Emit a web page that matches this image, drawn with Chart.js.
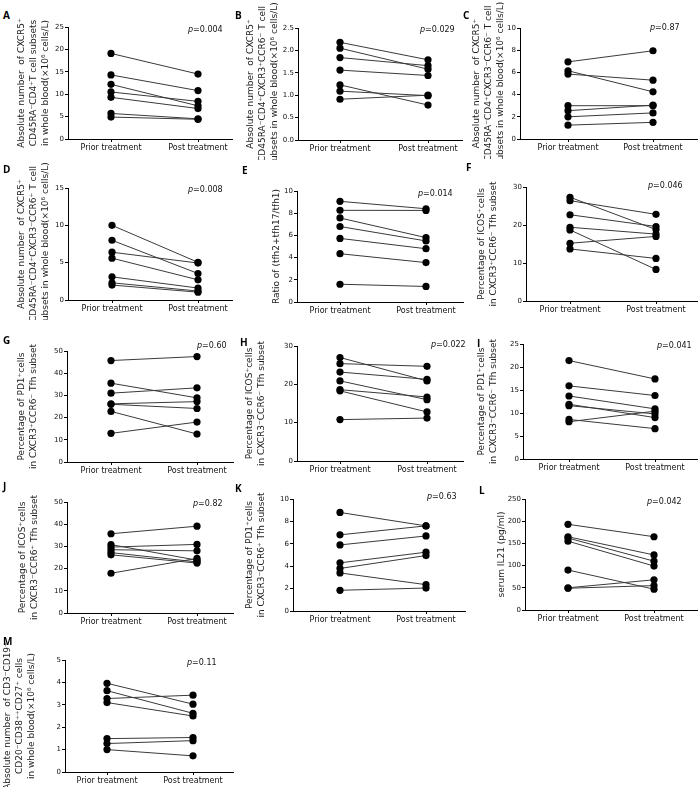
<!DOCTYPE html>
<html>
<head>
<meta charset="utf-8">
<script src="https://cdn.jsdelivr.net/npm/chart.js@4.4.1/dist/chart.umd.min.js"></script>
<style>
  body { margin: 0; background: #fff; width: 700px; height: 787px; position: relative; overflow: hidden; }
  canvas { position: absolute; }
  .lab { position: absolute; font: bold 10px "Open Sans", sans-serif; color: #000; line-height: 12px; }
  .pv { position: absolute; font: 8px "DejaVu Sans", sans-serif; color: #111; white-space: nowrap; line-height: 10px; }
</style>
</head>
<body>
<script>
// categories
const groups = ['Prior treatment', 'Post treatment'];

// values per subject
const A_prior = [19.1, 14.3, 12.2, 10.5, 9.3, 5.7, 4.9];
const A_post  = [14.5, 10.8, 7.4, 8.4, 6.8, 4.5, 4.4];
const B_prior = [2.18, 2.05, 1.84, 1.56, 1.23, 1.09, 0.91];
const B_post  = [1.79, 1.58, 1.66, 1.44, 0.78, 0.99, 1.0];
const C_prior = [6.95, 6.15, 5.85, 3.0, 2.55, 2.0, 1.25];
const C_post  = [7.95, 4.25, 5.3, 3.0, 3.05, 2.35, 1.5];
const D_prior = [10.0, 8.0, 6.4, 5.6, 3.1, 2.3, 2.0];
const D_post  = [5.05, 3.55, 4.95, 2.7, 1.6, 1.2, 1.05];
const E_prior = [9.07, 8.26, 7.57, 6.8, 5.73, 4.35, 1.6];
const E_post  = [8.4, 8.25, 5.8, 5.5, 4.8, 3.55, 1.4];
const F_prior = [27.3, 26.4, 22.7, 19.4, 18.7, 15.2, 13.7];
const F_post  = [18.8, 22.8, 19.6, 17.6, 8.3, 17.0, 11.2];
const G_prior = [45.7, 35.5, 31.0, 26.2, 26.0, 22.8, 12.9];
const G_post  = [47.5, 28.9, 33.4, 27.2, 24.1, 12.6, 18.0];
const H_prior = [27.0, 25.4, 23.2, 20.9, 18.6, 18.3, 10.8];
const H_post  = [20.9, 24.7, 21.3, 16.0, 16.7, 12.8, 11.2];
const I_prior = [21.4, 15.9, 13.7, 11.9, 11.6, 8.6, 8.1];
const I_post  = [17.4, 13.8, 10.9, 9.0, 9.8, 6.6, 10.4];
const J_prior = [35.7, 30.8, 29.7, 28.5, 27.2, 26.2, 17.9];
const J_post  = [39.1, 23.8, 30.9, 28.0, 23.0, 22.5, 24.6];
const K_prior = [8.8, 6.8, 5.9, 4.3, 3.8, 3.4, 1.85];
const K_post  = [7.6, 7.6, 6.7, 5.25, 4.95, 2.35, 2.05];
const L_prior = [193, 165, 162, 155, 90, 50, 49];
const L_post  = [165, 124, 110, 99, 47, 68, 55];
const M_prior = [3.96, 3.63, 3.28, 3.1, 1.49, 1.27, 1.0];
const M_post  = [3.03, 2.62, 3.43, 2.5, 1.54, 1.4, 0.72];

// y tick labels
const A_ticks = ['0', '5', '10', '15', '20', '25'];
const B_ticks = ['0.0', '0.5', '1.0', '1.5', '2.0', '2.5'];
const C_ticks = ['0', '2', '4', '6', '8', '10'];
const D_ticks = ['0', '5', '10', '15'];
const E_ticks = ['0', '2', '4', '6', '8', '10'];
const F_ticks = ['0', '10', '20', '30'];
const G_ticks = ['0', '10', '20', '30', '40', '50'];
const H_ticks = ['0', '10', '20', '30'];
const I_ticks = ['0', '5', '10', '15', '20', '25'];
const J_ticks = ['0', '10', '20', '30', '40', '50'];
const K_ticks = ['0', '2', '4', '6', '8', '10'];
const L_ticks = ['0', '50', '100', '150', '200', '250'];
const M_ticks = ['0', '1', '2', '3', '4', '5'];

// axis titles
const A_title = ['Absolute number  of CXCR5\u207A', 'CD45RA\u207BCD4\u207AT cell subsets', 'in whole blood(\u00D710\u2076 cells/L)'];
const B_title = ['Absolute number  of CXCR5\u207A', 'CD45RA\u207BCD4\u207ACXCR3\u207ACCR6\u207B T cell', 'subsets in whole blood(\u00D710\u2076 cells/L)'];
const C_title = ['Absolute number  of CXCR5\u207A', 'CD45RA\u207BCD4\u207ACXCR3\u207BCCR6\u207B T cell', 'subsets in whole blood(\u00D710\u2076 cells/L)'];
const D_title = ['Absolute number  of CXCR5\u207A', 'CD45RA\u207BCD4\u207ACXCR3\u207BCCR6\u207A T cell', 'subsets in whole blood(\u00D710\u2076 cells/L)'];
const E_title = 'Ratio of (tfh2+tfh17/tfh1)';
const F_title = ['Percentage of ICOS\u207Acells', 'in CXCR3\u207ACCR6\u207B Tfh subset'];
const G_title = ['Percentage of PD1\u207Acells', 'in CXCR3\u207ACCR6\u207B Tfh subset'];
const H_title = ['Percentage of ICOS\u207Acells', 'in CXCR3\u207BCCR6\u207B Tfh subset'];
const I_title = ['Percentage of PD1\u207Acells', 'in CXCR3\u207BCCR6\u207B Tfh subset'];
const J_title = ['Percentage of ICOS\u207Acells', 'in CXCR3\u207BCCR6\u207A Tfh subset'];
const K_title = ['Percentage of PD1\u207Acells', 'in CXCR3\u207BCCR6\u207A Tfh subset'];
const L_title = 'serum IL21 (pg/ml)';
const M_title = ['Absolute number  of CD3\u207BCD19\u207A', 'CD20\u207BCD38\u207A\u207ACD27\u207A cells', 'in whole blood(\u00D710\u2076 cells/L)'];

// layout: axis left/right, y of top/bottom of axis, x of the two groups, x of first title line
const panels = [
  {id: 'A', prior: A_prior, post: A_post, ticks: A_ticks, title: A_title, p: '0.004',
   axL: 68, axR: 232, top: 27, bot: 139, x0: 111, x1: 198, tx: 22, lab: [3, 15], pv: [188, 30]},
  {id: 'B', prior: B_prior, post: B_post, ticks: B_ticks, title: B_title, p: '0.029',
   axL: 298, axR: 462, top: 28, bot: 140, x0: 340, x1: 428, tx: 251, lab: [235, 15], pv: [420, 30]},
  {id: 'C', prior: C_prior, post: C_post, ticks: C_ticks, title: C_title, p: '0.87',
   axL: 520, axR: 697, top: 28, bot: 139, x0: 568, x1: 653, tx: 477, lab: [463, 15], pv: [650, 28]},
  {id: 'D', prior: D_prior, post: D_post, ticks: D_ticks, title: D_title, p: '0.008',
   axL: 68, axR: 232, top: 188, bot: 300, x0: 112, x1: 198, tx: 22, lab: [3, 169], pv: [188, 190]},
  {id: 'E', prior: E_prior, post: E_post, ticks: E_ticks, title: E_title, p: '0.014',
   axL: 297, axR: 463, top: 191, bot: 302, x0: 340, x1: 426, tx: 277, lab: [242, 170], pv: [418, 194]},
  {id: 'F', prior: F_prior, post: F_post, ticks: F_ticks, title: F_title, p: '0.046',
   axL: 526, axR: 697, top: 187, bot: 301, x0: 570, x1: 656, tx: 482, lab: [466, 167], pv: [648, 186]},
  {id: 'G', prior: G_prior, post: G_post, ticks: G_ticks, title: G_title, p: '0.60',
   axL: 67, axR: 233, top: 351, bot: 462, x0: 111, x1: 197, tx: 22, lab: [3, 340], pv: [197, 346]},
  {id: 'H', prior: H_prior, post: H_post, ticks: H_ticks, title: H_title, p: '0.022',
   axL: 297, axR: 463, top: 346, bot: 461, x0: 340, x1: 427, tx: 250, lab: [240, 342], pv: [431, 345]},
  {id: 'I', prior: I_prior, post: I_post, ticks: I_ticks, title: I_title, p: '0.041',
   axL: 523, axR: 697, top: 344, bot: 459, x0: 569, x1: 655, tx: 482, lab: [477, 343], pv: [657, 346]},
  {id: 'J', prior: J_prior, post: J_post, ticks: J_ticks, title: J_title, p: '0.82',
   axL: 67, axR: 233, top: 502, bot: 613, x0: 111, x1: 197, tx: 23, lab: [3, 486], pv: [193, 504]},
  {id: 'K', prior: K_prior, post: K_post, ticks: K_ticks, title: K_title, p: '0.63',
   axL: 293, axR: 465, top: 499, bot: 611, x0: 340, x1: 426, tx: 250, lab: [235, 488], pv: [427, 497]},
  {id: 'L', prior: L_prior, post: L_post, ticks: L_ticks, title: L_title, p: '0.042',
   axL: 525, axR: 697, top: 499, bot: 610, x0: 568, x1: 654, tx: 502, lab: [479, 490], pv: [647, 502]},
  {id: 'M', prior: M_prior, post: M_post, ticks: M_ticks, title: M_title, p: '0.11',
   axL: 65, axR: 233, top: 660, bot: 772, x0: 107, x1: 193, tx: 8, lab: [3, 641], pv: [187, 663]}
];

function drawPanel(p) {
  const left = Math.round(p.tx - 6);
  const top = p.top - 30;
  const cv = document.createElement('canvas');
  cv.width = p.axR - left + 4;
  cv.height = p.bot - top + 20;
  cv.style.left = left + 'px';
  cv.style.top = top + 'px';
  document.body.appendChild(cv);

  const unit = p.x1 - p.x0;
  const tickVals = p.ticks.map(Number);

  new Chart(cv, {
    type: 'line',
    data: {
      datasets: p.prior.map((v, i) => ({
        data: [{x: 0, y: v}, {x: 1, y: p.post[i]}],
        borderColor: '#3a3a3a',
        borderWidth: 1,
        pointRadius: 3.6,
        pointBackgroundColor: '#000',
        pointBorderColor: '#000',
        pointBorderWidth: 0,
        clip: false
      }))
    },
    options: {
      responsive: false,
      animation: false,
      devicePixelRatio: 1,
      layout: {padding: {top: 30, right: 4, left: 0, bottom: 0}},
      plugins: {legend: {display: false}, tooltip: {enabled: false}},
      scales: {
        x: {
          type: 'linear',
          min: -(p.x0 - p.axL) / unit,
          max: 1 + (p.axR - p.x1) / unit,
          afterBuildTicks: s => { s.ticks = [{value: 0}, {value: 1}]; },
          afterFit: s => { s.height = 20; },
          ticks: {
            callback: v => groups[v],
            font: {family: 'DejaVu Sans', size: 8},
            color: '#111', padding: 1, maxRotation: 0, autoSkip: false
          },
          grid: {drawOnChartArea: false, tickLength: 3, color: '#000'},
          border: {color: '#000', width: 1}
        },
        y: {
          min: 0,
          max: tickVals[tickVals.length - 1],
          afterBuildTicks: s => { s.ticks = tickVals.map(v => ({value: v})); },
          afterFit: s => { s.width = p.axL - left; },
          ticks: {
            callback: (v, i) => p.ticks[i],
            font: {family: 'DejaVu Sans', size: 7},
            color: '#111', padding: 1, autoSkip: false
          },
          title: {
            display: true,
            text: p.title,
            font: {family: 'DejaVu Sans', size: 9, lineHeight: 1.3},
            color: '#222',
            padding: 0
          },
          grid: {drawOnChartArea: false, tickLength: 3, color: '#000'},
          border: {color: '#000', width: 1}
        }
      }
    }
  });

  const lab = document.createElement('div');
  lab.className = 'lab';
  lab.textContent = p.id;
  lab.style.left = p.lab[0] + 'px';
  lab.style.top = (p.lab[1] - 6) + 'px';
  document.body.appendChild(lab);

  const pv = document.createElement('div');
  pv.className = 'pv';
  pv.innerHTML = '<i>p</i>=' + p.p;
  pv.style.left = p.pv[0] + 'px';
  pv.style.top = (p.pv[1] - 5) + 'px';
  document.body.appendChild(pv);
}

panels.forEach(drawPanel);
</script>
</body>
</html>
